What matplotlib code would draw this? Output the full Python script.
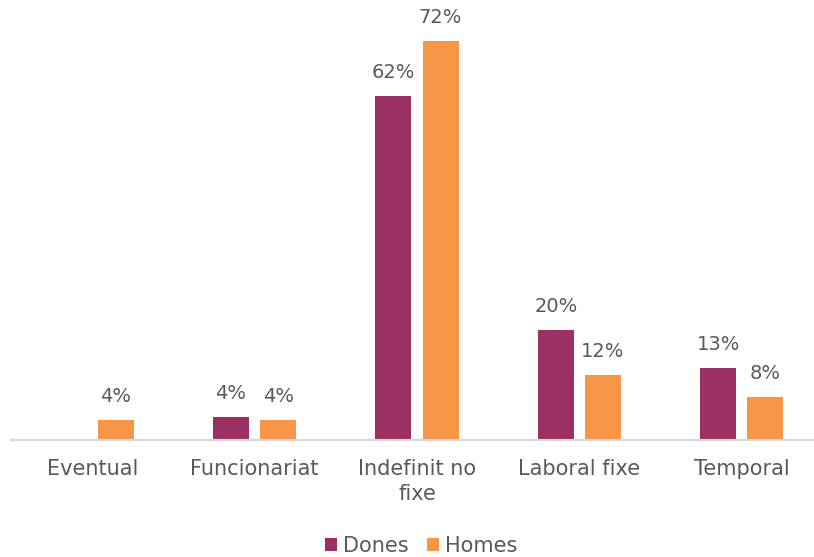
import numpy as np
import matplotlib.pyplot as plt

categories = ["Eventual", "Funcionariat", "Indefinit no\nfixe", "Laboral fixe", "Temporal"]
dones = [np.nan, 4.2, 62.1, 19.9, 13.0]
homes = [3.6, 3.6, 72.0, 11.7, 7.8]
dones_labels = ["", "4%", "62%", "20%", "13%"]
homes_labels = ["4%", "4%", "72%", "12%", "8%"]

col_dones = "#9B3162"
col_homes = "#F79646"
txt = "#595959"

fig = plt.figure(figsize=(8.14, 5.57), dpi=100)
ax = fig.add_axes([11 / 814, 117 / 557, 812 / 814, 440 / 557])

x = np.arange(len(categories))
w = 0.222
off = 0.145
b1 = ax.bar(x - off, dones, w, color=col_dones, label="Dones")
b2 = ax.bar(x + off, homes, w, color=col_homes, label="Homes")

for bars, labels in ((b1, dones_labels), (b2, homes_labels)):
    for rect, lab in zip(bars, labels):
        h = rect.get_height()
        if not lab or np.isnan(h):
            continue
        ax.annotate(lab, (rect.get_x() + rect.get_width() / 2, h),
                    xytext=(0, 10), textcoords="offset points",
                    ha="center", va="bottom", fontsize=14, color=txt)

ax.set_xlim(-0.5, len(categories) - 0.5)
ax.set_ylim(0, 79.4)
ax.set_xticks(x)
ax.set_xticklabels(categories, fontsize=15, color=txt, linespacing=1.3)
ax.tick_params(axis="x", length=0, pad=14)
ax.set_yticks([])
for s in ("top", "right", "left"):
    ax.spines[s].set_visible(False)
ax.spines["bottom"].set_color("#D9D9D9")
ax.spines["bottom"].set_linewidth(1.5)

leg = fig.legend(handles=[b1, b2], loc="center", bbox_to_anchor=(421 / 814, 1 - 546 / 557),
                 ncol=2, frameon=False, fontsize=15, handlelength=0.6, handleheight=0.6,
                 handletextpad=0.25, columnspacing=0.9)
for t in leg.get_texts():
    t.set_color(txt)

fig.savefig("out.png", dpi=100)
